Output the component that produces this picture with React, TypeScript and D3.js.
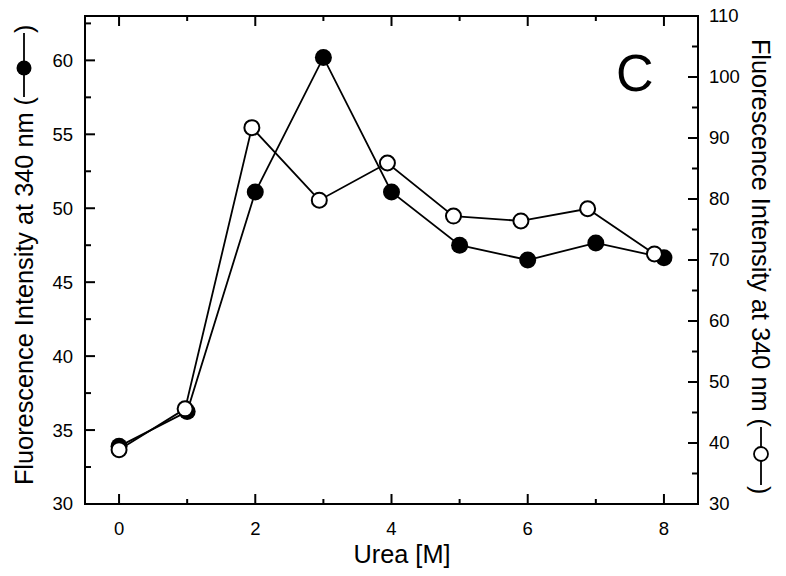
import React from "react";
import * as d3 from "d3";

const ureaFilled = [0, 1, 2, 3, 4, 5, 6, 7, 8];
const filledValues = [33.9, 36.25, 51.1, 60.2, 51.1, 47.5, 46.5, 47.65, 46.65];
const ureaOpen = [0, 0.97, 1.95, 2.94, 3.94, 4.91, 5.9, 6.88, 7.86];
const openValues = [38.9, 45.6, 91.7, 79.8, 85.9, 77.2, 76.4, 78.4, 71.0];

const xMajor = [0, 2, 4, 6, 8];
const xMinor = [1, 3, 5, 7];
const yLeftMajor = [30, 35, 40, 45, 50, 55, 60];
const yLeftMinor = [32.5, 37.5, 42.5, 47.5, 52.5, 57.5, 62.5];
const yRightMajor = [30, 40, 50, 60, 70, 80, 90, 100, 110];
const yRightMinor = [35, 45, 55, 65, 75, 85, 95, 105];

const xTitle = "Urea [M]";
const yTitle = "Fluorescence Intensity at 340 nm (";
const panelLabel = "C";

const W = 786, H = 576;
const L = 85, R = 698, T = 16, B = 504;
const FONT = "Liberation Sans, Arial, sans-serif";
const TITLE_SIZE = 25.3;

export default function App() {
  const x = d3.scaleLinear().domain([-0.5, 8.5]).range([L, R]);
  const yL = d3.scaleLinear().domain([30, 63]).range([B, T]);
  const yR = d3.scaleLinear().domain([30, 110]).range([B, T]);

  const filledData = ureaFilled.map((u, i) => [u, filledValues[i]] as [number, number]);
  const openData = ureaOpen.map((u, i) => [u, openValues[i]] as [number, number]);

  const lineL = d3.line<[number, number]>().x(d => x(d[0])).y(d => yL(d[1]));
  const lineR = d3.line<[number, number]>().x(d => x(d[0])).y(d => yR(d[1]));

  const sw = 2;
  return (
    <div style={{ position: "absolute", left: 0, top: 0 }}>
      <svg width={W} height={H} style={{ display: "block", background: "#fff" }} fontFamily={FONT}>
        <rect x={0} y={0} width={W} height={H} fill="#fff" />
        {/* frame */}
        <path d={`M${L},${T}H${R}V${B}H${L}Z`} fill="none" stroke="#000" strokeWidth={2} />
        {/* x ticks bottom & top */}
        {xMajor.map(v => (
          <g key={"xM" + v}>
            <line x1={x(v)} x2={x(v)} y1={B} y2={B - 10} stroke="#000" strokeWidth={sw} />
            <line x1={x(v)} x2={x(v)} y1={T} y2={T + 10} stroke="#000" strokeWidth={sw} />
            <text x={x(v)} y={535} fontSize={18.5} textAnchor="middle">{v}</text>
          </g>
        ))}
        {xMinor.map(v => (
          <g key={"xm" + v}>
            <line x1={x(v)} x2={x(v)} y1={B} y2={B - 5} stroke="#000" strokeWidth={sw} />
            <line x1={x(v)} x2={x(v)} y1={T} y2={T + 5} stroke="#000" strokeWidth={sw} />
          </g>
        ))}
        {/* left axis */}
        {yLeftMajor.map(v => (
          <g key={"yL" + v}>
            <line x1={L} x2={L + 10} y1={yL(v)} y2={yL(v)} stroke="#000" strokeWidth={sw} />
            <text x={73} y={yL(v)} dy="0.35em" fontSize={18.5} textAnchor="end">{v}</text>
          </g>
        ))}
        {yLeftMinor.map(v => (
          <line key={"yl" + v} x1={L} x2={L + 6} y1={yL(v)} y2={yL(v)} stroke="#000" strokeWidth={sw} />
        ))}
        {/* right axis */}
        {yRightMajor.map(v => (
          <g key={"yR" + v}>
            <line x1={R} x2={R - 10} y1={yR(v)} y2={yR(v)} stroke="#000" strokeWidth={sw} />
            <text x={709} y={yR(v)} dy="0.35em" fontSize={18.5} textAnchor="start">{v}</text>
          </g>
        ))}
        {yRightMinor.map(v => (
          <line key={"yr" + v} x1={R} x2={R - 6} y1={yR(v)} y2={yR(v)} stroke="#000" strokeWidth={sw} />
        ))}
        {/* series */}
        <path d={lineL(filledData) || ""} fill="none" stroke="#000" strokeWidth={1.8} />
        {filledData.map((d, i) => (
          <circle key={"f" + i} cx={x(d[0])} cy={yL(d[1])} r={8.5} fill="#000" />
        ))}
        <path d={lineR(openData) || ""} fill="none" stroke="#000" strokeWidth={1.8} />
        {openData.map((d, i) => (
          <circle key={"o" + i} cx={x(d[0])} cy={yR(d[1])} r={7.5} fill="#fff" stroke="#000" strokeWidth={2} />
        ))}
        {/* panel label */}
        <text x={616} y={91} fontSize={52}>{panelLabel}</text>
        {/* x title */}
        <text x={402} y={563} fontSize={TITLE_SIZE} textAnchor="middle">{xTitle}</text>
        {/* left title */}
        <g transform="translate(33,0) rotate(-90)">
          <text x={-97} y={0} fontSize={TITLE_SIZE} textAnchor="end">{yTitle}</text>
          <line x1={-97} x2={-33} y1={-9} y2={-9} stroke="#000" strokeWidth={1.8} />
          <circle cx={-68} cy={-9} r={7.5} fill="#000" />
          <text x={-33} y={0} fontSize={TITLE_SIZE}>{")"}</text>
        </g>
        {/* right title */}
        <g transform="translate(752,0) rotate(90)">
          <text x={427} y={0} fontSize={TITLE_SIZE} textAnchor="end">{yTitle}</text>
          <line x1={427} x2={485} y1={-9} y2={-9} stroke="#000" strokeWidth={1.8} />
          <circle cx={454} cy={-9} r={7} fill="#fff" stroke="#000" strokeWidth={1.8} />
          <text x={486} y={0} fontSize={TITLE_SIZE}>{")"}</text>
        </g>
      </svg>
    </div>
  );
}
